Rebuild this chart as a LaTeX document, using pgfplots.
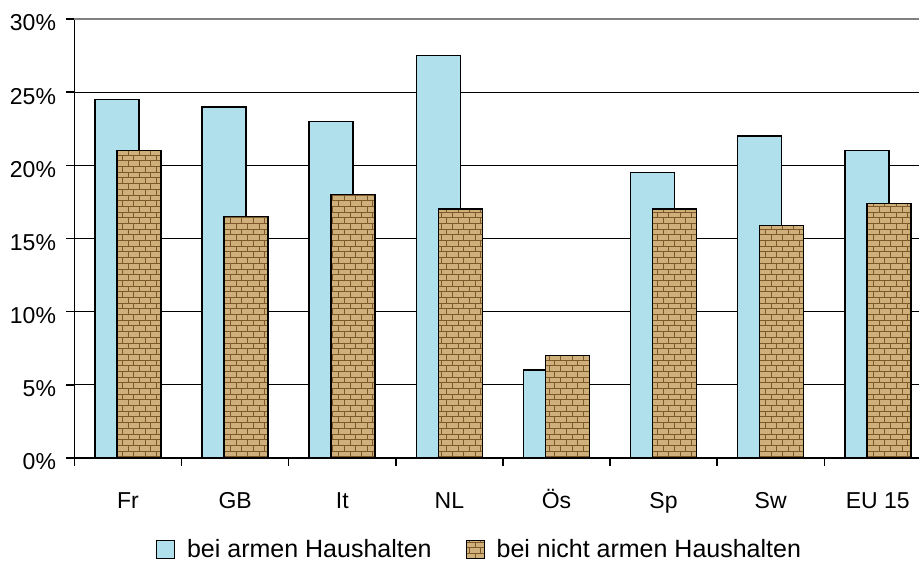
\documentclass[border=0pt]{standalone}
\usepackage{pgfplots}
\pgfplotsset{compat=1.18}
\usepackage{fontspec}
\setmainfont{Liberation Sans}
\usetikzlibrary{patterns}
\definecolor{bluebar}{RGB}{176,224,236}
\definecolor{tanbar}{RGB}{208,176,122}
\definecolor{brownline}{RGB}{125,88,42}
\begin{document}
\begin{tikzpicture}
\begin{axis}[
  at={(0pt,0pt)}, anchor=south west,
  scale only axis, width=844.5pt, height=439pt,
  xmin=-0.5, xmax=7.385, ymin=0, ymax=30,
  axis x line*=bottom, axis y line*=left,
  axis line style={line width=1.4pt, black},
  xtick={0,...,7},
  xticklabels={Fr,GB,It,NL,Ös,Sp,Sw,EU 15},
  major x tick style={draw=none},
  minor xtick={-0.5,0.5,...,6.5},
  minor x tick style={black, line width=1.4pt},
  tick align=outside,
  major tick length=8pt, minor tick length=8pt,
  ytick={0,5,...,25},
  yticklabels={0\%,5\%,10\%,15\%,20\%,25\%},
  extra y ticks={30}, extra y tick labels={30\%},
  extra y tick style={grid style={gray, line width=1.6pt}, y tick style={black, line width=1.4pt}},
  ymajorgrids, grid style={black, line width=1pt},
  y tick style={black, line width=1.4pt},
  ticklabel style={font=\fontsize{23}{27}\selectfont},
  xticklabel style={inner sep=0pt, text height=16pt, text depth=0pt, anchor=north, yshift=-26pt},
  yticklabel style={xshift=-7pt, yshift=-4pt},
  ybar, bar width=44pt,
  legend columns=2,
  legend style={draw=none, fill=none, inner sep=0pt, outer sep=0pt,
    at={(0.0966,-0.2073)}, anchor=west,
    font=\fontsize{25}{29}\selectfont,
    nodes={inner sep=0pt},
    /tikz/every odd column/.append style={column sep=12pt},
    /tikz/every even column/.append style={column sep=34pt}},
  legend image code/.code={\draw[#1, line width=1pt] (0pt,-9pt) rectangle (18pt,9pt);},
]
\addplot[draw=black, line width=1.6pt, fill=bluebar, bar shift=-11pt]
  coordinates {(0,24.5) (1,24) (2,23) (3,27.5) (4,6) (5,19.5) (6,22) (7,21)};
\addlegendentry{bei armen Haushalten}
\addplot[draw=black, line width=1.6pt, fill=tanbar, bar shift=11pt,
  postaction={pattern=bricks, pattern color=brownline}]
  coordinates {(0,21) (1,16.5) (2,18) (3,17) (4,7) (5,17) (6,15.9) (7,17.4)};
\addlegendentry{bei nicht armen Haushalten}
\end{axis}
\pgfresetboundingbox
\path[use as bounding box] (-74.5pt,-104pt) rectangle (844.5pt,458pt);
\end{tikzpicture}
\end{document}
